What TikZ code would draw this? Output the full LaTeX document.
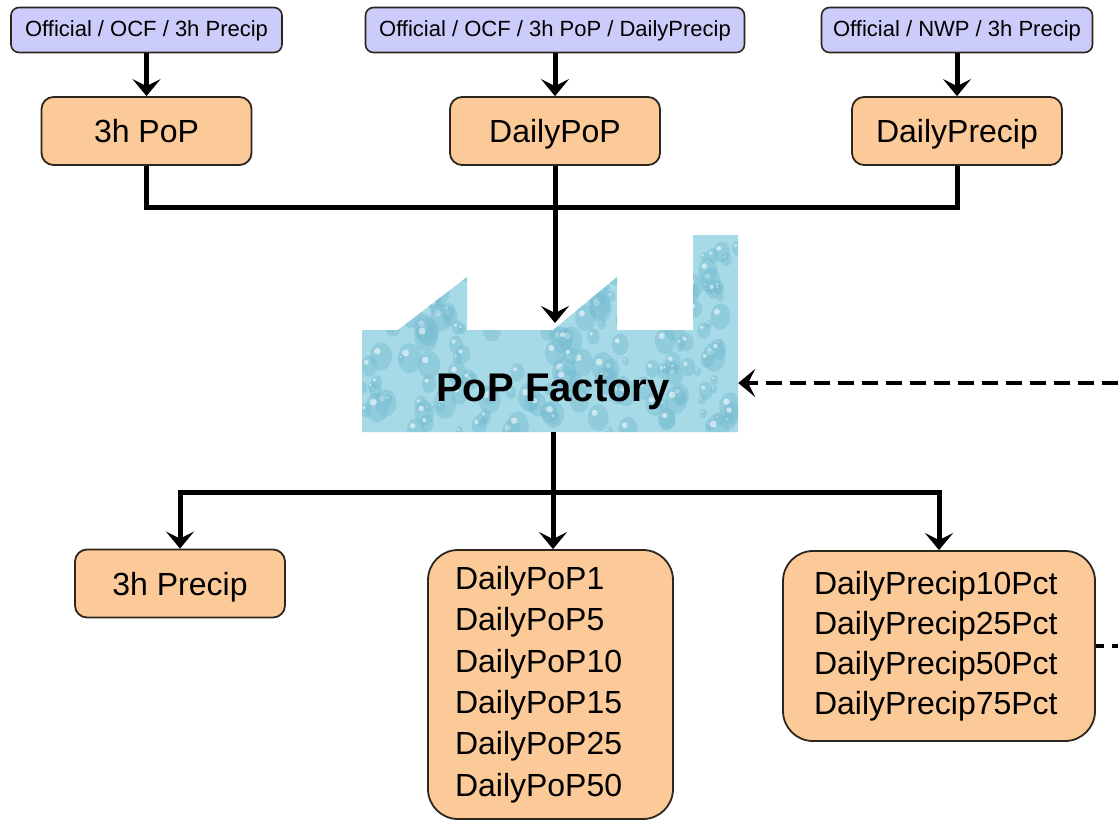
\documentclass[tikz,border=0pt]{standalone}
\usepackage{fontspec}
\setmainfont{Liberation Sans}
\usetikzlibrary{arrows.meta}

\definecolor{srcblue}{RGB}{204,204,250}
\definecolor{prodorange}{RGB}{251,202,152}
\definecolor{boxline}{RGB}{45,38,30}
\definecolor{water}{RGB}{166,218,230}
\definecolor{waterdark}{RGB}{118,188,210}

\begin{document}
\begin{tikzpicture}[x=1pt,y=-1pt,
	src/.style={draw=boxline,line width=1.6pt,fill=srcblue,rounded corners=8pt,
		minimum width=271pt,minimum height=45pt,inner sep=0pt,text depth=2pt,
		font=\fontsize{22}{26}\selectfont},
	prodbox/.style={draw=boxline,line width=1.8pt,fill=prodorange,inner sep=0pt},
	prod/.style={prodbox,rounded corners=12pt,minimum width=210pt,minimum height=68pt,
		text depth=0pt,font=\fontsize{32}{38}\selectfont},
	prodlist/.style={prodbox,rounded corners=30pt,align=left,inner xsep=0pt},
	flow/.style={line width=5pt,draw=black},
	arr/.style={flow,-{Stealth[length=17pt,width=28pt,inset=7pt]}},
	feed/.style={line width=4.5pt,dash pattern=on 16pt off 8pt}]
 	 \useasboundingbox (0,0) rectangle (1118,819);

	 \node[src] (s1) at (146.5,30) {Official / OCF / 3h Precip};
	 \node[src,minimum width=379pt] (s2) at (555,30) {Official / OCF / 3h PoP / DailyPrecip};
	 \node[src] (s3) at (957,30) {Official / NWP / 3h Precip};

	 \node[prod] (pop3h) at (146.5,131) {3h PoP};
	 \node[prod] (dpop) at (555,131) {DailyPoP};
	 \node[prod] (dprecip) at (957,131) {DailyPrecip};

	 \foreach \a/\b in {s1/pop3h,s2/dpop,s3/dprecip}
	 	\draw[arr] (\a) -- (\b);

	 % factory outline with drops
	 \def\factory{(362,432) -- (362,330) -- (398,330) -- (467,277) -- (467,330) -- (553,330)
	 	-- (617,277) -- (617,330) -- (693,330) -- (693,235) -- (738,235) -- (738,432) -- cycle}
	 \fill[water] \factory;
	 \begin{scope}
	 	\clip \factory;
	 	\pgfmathsetseed{17}
	 	\foreach \k in {1,...,220}{
	 		\pgfmathsetmacro\px{362+376*rnd}
	 		\pgfmathsetmacro\py{235+197*rnd}
	 		\pgfmathsetmacro\rr{3+9*rnd}
	 		\fill[waterdark,opacity=.45] (\px,\py) ellipse ({\rr pt} and {1.3*\rr pt});
	 		\fill[white,opacity=.55] (\px-0.35*\rr,\py-0.45*\rr) circle ({0.3*\rr pt});
	 	}
	 \end{scope}
	 \node[minimum width=376pt,minimum height=102pt,inner sep=0pt] (fac) at (550,381) {};
	 \node[font=\fontsize{40}{48}\selectfont\bfseries] (faclabel) at (553,392) {PoP Factory};

	 \coordinate (join) at (555,207);
	 \coordinate (roof) at (555,323);
	 \draw[flow] (pop3h.south) |- (join) -| (dprecip.south);
	 \draw[flow] (dpop.south) -- (join);
	 \draw[arr] (join) -- (roof);

	 \node[prod] (p3) at (180,583.5) {3h Precip};
	 \node[prodlist,minimum width=245pt,minimum height=269pt,text width=191pt,
	 	font=\fontsize{32}{41.4}\selectfont] (poplist) at (550.5,684.5)
	 	{DailyPoP1\\DailyPoP5\\DailyPoP10\\DailyPoP15\\DailyPoP25\\DailyPoP50};
	 \node[prodlist,minimum width=312pt,minimum height=190pt,text width=250pt,
	 	font=\fontsize{32}{40}\selectfont] (pctlist) at (939,646)
	 	{DailyPrecip10Pct\\DailyPrecip25Pct\\DailyPrecip50Pct\\DailyPrecip75Pct};

	 \coordinate (split) at (553,492);
	 \draw[flow] (fac.south -| split) -- (split);
	 \draw[arr] (split) -| (p3.north);
	 \draw[arr] (split) -| (pctlist.north);
	 \draw[arr] (split) -- (split |- poplist.north);

	 \coordinate (feedin) at (1118,383);
	 \draw[feed,-{Stealth[length=17pt,width=28pt,inset=7pt]}] (feedin) -- (fac.east |- feedin);
	 \draw[feed,dash pattern=on 8pt off 8pt on 16pt off 8pt] (pctlist.east) -- (pctlist.east -| feedin);
\end{tikzpicture}
\end{document}
